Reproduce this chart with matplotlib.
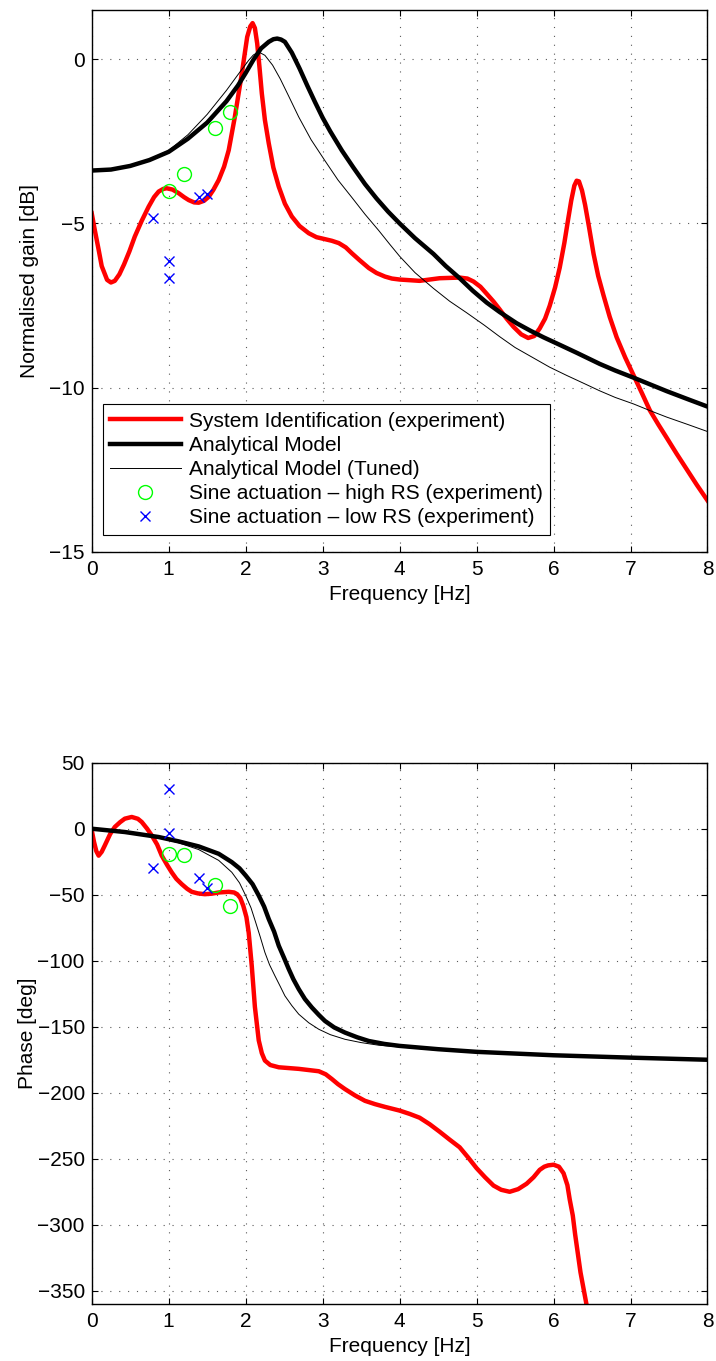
import matplotlib
matplotlib.use("Agg")
import matplotlib.pyplot as plt

plt.rcParams['font.family'] = ['Liberation Sans', 'DejaVu Sans']
plt.rcParams['font.size'] = 15

# ---------------- data ----------------
# Gain, System Identification (experiment)
f_sysid_gain = [0, 0.04, 0.09, 0.13, 0.2, 0.25, 0.3, 0.36, 0.42, 0.49, 0.56, 0.65, 0.74, 0.81,
                0.87, 0.93, 0.975, 1.05, 1.13, 1.2, 1.26, 1.33, 1.39, 1.46, 1.52, 1.58, 1.65,
                1.72, 1.78, 1.86, 1.95, 2.02, 2.06, 2.09, 2.12, 2.15, 2.18, 2.21, 2.25, 2.30,
                2.36, 2.43, 2.51, 2.60, 2.7, 2.82, 2.92, 3.03, 3.12, 3.21, 3.3, 3.38, 3.48,
                3.60, 3.7, 3.81, 3.9, 4.0, 4.26, 4.52, 4.78, 4.88, 4.96, 5.05, 5.13, 5.22,
                5.30, 5.39, 5.48, 5.58, 5.67, 5.75, 5.82, 5.89, 5.95, 6.02, 6.08, 6.14, 6.19,
                6.23, 6.27, 6.30, 6.33, 6.37, 6.41, 6.46, 6.52, 6.58, 6.65, 6.73, 6.82, 6.93,
                7.04, 7.15, 7.25, 7.36, 7.47, 7.6, 7.73, 7.86, 8.0]
g_sysid = [-4.69, -5.2, -5.8, -6.3, -6.72, -6.80, -6.75, -6.55, -6.25, -5.85, -5.40, -4.92,
           -4.49, -4.2, -4.03, -3.95, -3.93, -3.97, -4.08, -4.2, -4.29, -4.36, -4.37, -4.31,
           -4.19, -3.98, -3.68, -3.27, -2.77, -1.75, -0.44, 0.68, 1.0, 1.10, 0.95, 0.48,
           -0.25, -1.04, -1.85, -2.56, -3.3, -3.88, -4.4, -4.79, -5.08, -5.30, -5.42, -5.48,
           -5.53, -5.60, -5.73, -5.91, -6.12, -6.36, -6.51, -6.62, -6.68, -6.71, -6.75, -6.67,
           -6.65, -6.68, -6.77, -6.93, -7.14, -7.38, -7.62, -7.9, -8.15, -8.38, -8.49, -8.43,
           -8.20, -7.9, -7.51, -6.95, -6.35, -5.6, -4.87, -4.3, -3.85, -3.70, -3.72, -4.0,
           -4.44, -5.1, -5.93, -6.6, -7.20, -7.85, -8.47, -9.08, -9.63, -10.18, -10.69,
           -11.12, -11.53, -12.02, -12.49, -12.96, -13.44]

# Gain, Analytical Model
f_model_gain = [0, 0.25, 0.5, 0.75, 1.0, 1.25, 1.5, 1.75, 1.9, 2.0, 2.1, 2.2, 2.3, 2.36, 2.41,
                2.46, 2.51, 2.6, 2.7, 2.8, 2.9, 3.0, 3.1, 3.25, 3.4, 3.55, 3.7, 3.85, 4.0, 4.2,
                4.44, 4.6, 4.78, 4.95, 5.13, 5.3, 5.52, 5.7, 5.87, 6.1, 6.3, 6.6, 6.8, 7.04,
                7.25, 7.47, 7.75, 8.0]
g_model = [-3.39, -3.36, -3.25, -3.07, -2.82, -2.42, -1.93, -1.28, -0.8, -0.42, -0.02, 0.33,
           0.53, 0.61, 0.63, 0.6, 0.53, 0.2, -0.28, -0.8, -1.3, -1.78, -2.2, -2.78, -3.3,
           -3.8, -4.24, -4.64, -5.0, -5.45, -5.93, -6.3, -6.67, -7.05, -7.41, -7.7, -8.04,
           -8.27, -8.47, -8.72, -8.94, -9.28, -9.48, -9.7, -9.9, -10.11, -10.36, -10.58]

# Gain, Analytical Model (Tuned)
f_tuned_gain = [0, 0.25, 0.5, 0.75, 1.0, 1.25, 1.5, 1.75, 1.9, 2.04, 2.1, 2.17, 2.25, 2.35,
                2.45, 2.55, 2.69, 2.85, 3.03, 3.2, 3.38, 3.55, 3.73, 3.87, 4.0, 4.2, 4.44,
                4.65, 4.87, 5.1, 5.3, 5.5, 5.74, 5.95, 6.17, 6.4, 6.6, 6.8, 7.04, 7.25, 7.47,
                7.75, 8.0]
g_tuned = [-3.39, -3.35, -3.24, -3.05, -2.78, -2.3, -1.68, -0.95, -0.47, -0.03, 0.13, 0.22,
           0.12, -0.18, -0.6, -1.08, -1.76, -2.45, -3.09, -3.68, -4.21, -4.72, -5.22, -5.63,
           -6.0, -6.5, -6.98, -7.37, -7.72, -8.1, -8.45, -8.78, -9.1, -9.38, -9.63, -9.88,
           -10.1, -10.3, -10.5, -10.7, -10.9, -11.13, -11.34]

# Sine actuation points
f_high = [1.0, 1.2, 1.6, 1.8]
g_high = [-4.0, -3.5, -2.1, -1.6]
p_high = [-19, -20, -42.5, -58.5]

f_low = [0.8, 1.0, 1.0, 1.4, 1.5]
g_low = [-4.85, -6.15, -6.65, -4.2, -4.1]
f_low_ph = [0.8, 1.0, 1.0, 1.4, 1.5]
p_low = [-30, 30, -3, -37, -45]

# Phase, System Identification
f_sysid_ph = [0, 0.03, 0.06, 0.09, 0.13, 0.17, 0.24, 0.30, 0.37, 0.43, 0.52, 0.60, 0.65, 0.72,
              0.78, 0.85, 0.91, 0.98, 1.04, 1.1, 1.17, 1.24, 1.30, 1.38, 1.47, 1.56, 1.65,
              1.78, 1.85, 1.89, 1.93, 1.97, 2.01, 2.04, 2.08, 2.12, 2.17, 2.21, 2.25, 2.32,
              2.43, 2.69, 2.95, 3.04, 3.12, 3.2, 3.29, 3.42, 3.55, 3.68, 3.81, 4.0, 4.13,
              4.26, 4.39, 4.52, 4.65, 4.78, 4.89, 5.0, 5.11, 5.22, 5.32, 5.43, 5.54, 5.65,
              5.74, 5.82, 5.88, 5.93, 6.0, 6.07, 6.13, 6.18, 6.21, 6.25, 6.28, 6.35, 6.43, 6.47]
p_sysid = [-1, -10, -17, -20.4, -17.5, -12.7, -4, 1.3, 5, 7.6, 8.9, 7.5, 5.1, 0, -5.1, -12,
           -20.4, -27.5, -33.1, -38, -42, -45.5, -47.8, -49, -49.6, -49.2, -48.3, -47.8,
           -48.3, -49.6, -52.5, -58.5, -67, -78.9, -104.3, -134.9, -160.3, -170, -175.6,
           -179, -180.7, -181.9, -183.7, -186, -189.6, -193.5, -197.2, -202, -206.1, -208.6,
           -210.7, -213.5, -216, -218.9, -223.8, -229.5, -235.5, -241.3, -249, -257.1, -264,
           -270.3, -273.5, -275.0, -273, -268.9, -264, -258.4, -256, -255, -254.5, -256,
           -261, -270, -280.8, -293, -307.1, -336, -361, -375]

# Phase, Analytical Model
f_model_ph = [0, 0.43, 0.87, 1.13, 1.39, 1.65, 1.82, 1.92, 2.0, 2.09, 2.17, 2.24, 2.30, 2.37,
              2.43, 2.5, 2.56, 2.62, 2.69, 2.77, 2.86, 2.95, 3.03, 3.15, 3.29, 3.45, 3.60,
              3.8, 4.0, 4.5, 5.0, 6.0, 7.0, 8.0]
p_model = [0, -2.5, -6.3, -9.6, -13.4, -19, -25.3, -30, -35.4, -42, -50.6, -59, -68.4, -78,
           -88.6, -98, -106.3, -114, -121.5, -129, -135.4, -141, -145.6, -150.5, -154.4, -158,
           -160.8, -163, -164.5, -167, -169, -171.6, -173.4, -175]

# Phase, Analytical Model (Tuned)
f_tuned_ph = [0, 0.43, 0.87, 1.13, 1.39, 1.65, 1.82, 1.92, 2.0, 2.07, 2.13, 2.19, 2.25, 2.31,
              2.38, 2.45, 2.51, 2.6, 2.69, 2.82, 2.95, 3.1, 3.29, 3.5, 3.73, 4.0, 4.5, 5.0,
              6.0, 7.0, 8.0]
p_tuned = [0, -2.6, -6.8, -10.7, -15.8, -24, -33, -41, -50.6, -60, -70.9, -82, -93.7, -103,
           -111.4, -119.5, -126.6, -134, -140.5, -147, -151.9, -156, -159.5, -162, -164,
           -165.3, -167.7, -169.5, -172, -173.6, -175.2]

x_ticks = [0, 1, 2, 3, 4, 5, 6, 7, 8]
gain_ticks = [-15, -10, -5, 0]
phase_ticks = [-350, -300, -250, -200, -150, -100, -50, 0, 50]

labels = ['System Identification (experiment)', 'Analytical Model',
          'Analytical Model (Tuned)', 'Sine actuation \u2013 high RS (experiment)',
          'Sine actuation \u2013 low RS (experiment)']

# ---------------- figure ----------------
W, H = 716, 1361
fig = plt.figure(figsize=(W / 100, H / 100), dpi=100)
left = 91.7 / W
width = (707.5 - 91.7) / W
ax1 = fig.add_axes([left, 1 - 551.7 / H, width, 541.7 / H])
ax2 = fig.add_axes([left, 1 - 1304 / H, width, 541.3 / H])

red = (1, 0, 0)
green = (0, 1, 0)
blue = (0, 0, 1)


def style(ax):
    ax.set_xlim(0, 8)
    ax.set_xticks(x_ticks)
    ax.grid(True, color='0.35', linestyle=(0, (1, 7)), linewidth=0.8)
    ax.tick_params(direction='in', length=4, width=0.8, top=True, right=True,
                   labelsize=15)
    ax.tick_params(axis='x', pad=6)
    ax.tick_params(axis='y', pad=5)
    for s in ax.spines.values():
        s.set_linewidth(1.0)
    ax.set_axisbelow(True)


# Top: gain
ax1.plot(f_sysid_gain, g_sysid, color=red, lw=3.2, label=labels[0], solid_joinstyle='round')
ax1.plot(f_model_gain, g_model, color='k', lw=3.2, label=labels[1], solid_joinstyle='round')
ax1.plot(f_tuned_gain, g_tuned, color='k', lw=0.7, label=labels[2])
ax1.plot(f_high, g_high, 'o', mfc='none', mec=green, ms=10, mew=1.0, ls='none', label=labels[3])
ax1.plot(f_low, g_low, 'x', color=blue, ms=7, mew=1.0, ls='none', label=labels[4])
ax1.set_ylim(-15, 1.5)
ax1.set_yticks(gain_ticks)
style(ax1)
ax1.set_xlabel('Frequency [Hz]', fontsize=15)
ax1.set_ylabel('Normalised gain [dB]', fontsize=15)
ax1.yaxis.set_label_coords((39 - 91.7) / (707.5 - 91.7), 0.5)

leg = ax1.legend(loc='upper left', bbox_to_anchor=((102.7 - 91.7) / 615.8, 1 - (404.3 - 10) / 541.7),
                 borderaxespad=0, fontsize=15, frameon=True, fancybox=False, framealpha=1,
                 edgecolor='k', handlelength=3.4, handletextpad=0.4, labelspacing=0.25,
                 borderpad=0.35, numpoints=1)
leg.get_frame().set_linewidth(0.8)

# Bottom: phase
ax2.plot(f_sysid_ph, p_sysid, color=red, lw=3.2, solid_joinstyle='round')
ax2.plot(f_model_ph, p_model, color='k', lw=3.2, solid_joinstyle='round')
ax2.plot(f_tuned_ph, p_tuned, color='k', lw=0.7)
ax2.plot(f_high, p_high, 'o', mfc='none', mec=green, ms=10, mew=1.0, ls='none')
ax2.plot(f_low_ph, p_low, 'x', color=blue, ms=7, mew=1.0, ls='none')
ax2.set_ylim(-360, 50)
ax2.set_yticks(phase_ticks)
style(ax2)
ax2.set_xlabel('Frequency [Hz]', fontsize=15)
ax2.set_ylabel('Phase [deg]', fontsize=15)
ax2.yaxis.set_label_coords((37 - 91.7) / (707.5 - 91.7), 0.5)

fig.savefig('out.png', dpi=100)
